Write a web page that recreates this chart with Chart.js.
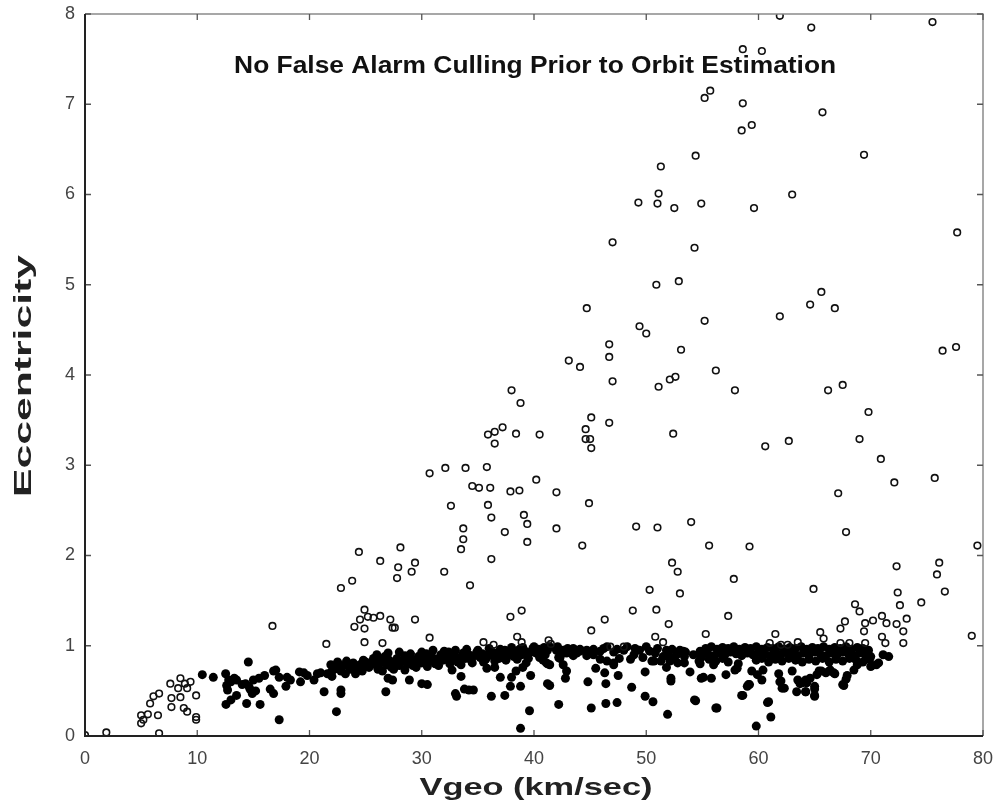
<!DOCTYPE html>
<html>
<head>
<meta charset="utf-8">
<script src="https://cdn.jsdelivr.net/npm/chart.js@4.4.1/dist/chart.umd.min.js"></script>
<style>
html,body{margin:0;padding:0;background:#fff;}
canvas{display:block;}
</style>
</head>
<body>
<canvas id="c" width="998" height="808"></canvas>
<script>
const chartTitle = 'No False Alarm Culling Prior to Orbit Estimation';
const xAxisTitle = 'Vgeo (km/sec)';
const yAxisTitle = 'Eccentricity';
const xTickValues = [0,10,20,30,40,50,60,70,80];
const yTickValues = [0,1,2,3,4,5,6,7,8];

// open circles, low-velocity cluster
const openLow = [[0,0.01],[1.9,0.04],[6.6,0.03],[5.0,0.23],[5.2,0.18],[5.0,0.14],[5.6,0.24],[5.8,0.36],[6.1,0.44],[6.6,0.47],[6.5,0.23],
[7.6,0.58],[8.5,0.64],[9.4,0.60],[8.3,0.53],[9.1,0.53],[7.7,0.42],[8.5,0.43],[9.9,0.45],[7.7,0.32],[8.8,0.31],[9.1,0.27],[9.9,0.21],[9.9,0.18],[8.9,0.58]];

// open circles, middle cluster (x 16-48)
const openMid = [[16.7,1.22],[21.5,1.02],[22.8,1.64],[23.8,1.72],[24.4,2.04],[26.3,1.94],[28.1,2.09],[27.9,1.87],[27.8,1.75],[29.4,1.92],[29.1,1.82],[32.0,1.82],
[24.9,1.40],[24.5,1.29],[25.2,1.32],[25.7,1.31],[26.3,1.33],[27.2,1.29],[24.0,1.21],[24.9,1.19],[27.6,1.20],[29.4,1.29],[27.4,1.20],
[24.9,1.04],[26.5,1.03],[30.7,1.09],[35.5,1.04],[36.4,1.01],[37.9,1.32],[38.9,1.39],[38.5,1.10],[38.9,1.04],[41.3,1.06],[41.5,1.02],
[30.7,2.91],[32.1,2.97],[33.9,2.97],[35.8,2.98],[34.5,2.77],[35.1,2.75],[36.1,2.75],[37.9,2.71],[38.7,2.72],[40.2,2.84],[42.0,2.70],
[32.6,2.55],[35.9,2.56],[36.2,2.42],[39.1,2.45],[39.4,2.35],[33.7,2.30],[33.7,2.18],[33.5,2.07],[37.4,2.26],[39.4,2.15],[42.0,2.30],
[34.3,1.67],[36.2,1.96],[44.3,2.11],[44.9,2.58],
[38.0,3.83],[38.8,3.69],[35.9,3.34],[36.5,3.37],[37.2,3.42],[36.5,3.24],[38.4,3.35],[40.5,3.34],
[43.1,4.16],[44.1,4.09],[44.7,4.74],[45.1,3.53],[44.6,3.40],[44.6,3.29],[45.0,3.29],[45.1,3.19],[46.7,3.47],[46.7,4.34],[46.7,4.20],[47.0,3.93],[47.0,5.47],
[45.1,1.17],[46.3,1.29],[46.8,0.99]];

// open circles, high-velocity region (x 48-80)
const openHigh = [[61.9,7.98],[64.7,7.85],[75.5,7.91],[58.6,7.61],[60.3,7.59],[55.7,7.15],[55.2,7.07],[58.6,7.01],[65.7,6.91],[58.5,6.71],[59.4,6.77],
[54.4,6.43],[69.4,6.44],[51.3,6.31],[63.0,6.00],[51.1,6.01],[51.0,5.90],[49.3,5.91],[52.5,5.85],[54.9,5.90],[59.6,5.85],[54.3,5.41],[77.7,5.58],
[50.9,5.00],[52.9,5.04],[49.4,4.54],[50.0,4.46],[55.2,4.60],[61.9,4.65],[64.6,4.78],[65.6,4.92],[66.8,4.74],[53.1,4.28],[56.2,4.05],
[51.1,3.87],[52.1,3.95],[52.6,3.98],[57.9,3.83],[66.2,3.83],[67.5,3.89],[76.4,4.27],[77.6,4.31],[69.8,3.59],[52.4,3.35],
[60.6,3.21],[62.7,3.27],[69.0,3.29],[70.9,3.07],[75.7,2.86],[72.1,2.81],[67.1,2.69],[67.8,2.26],
[49.1,2.32],[51.0,2.31],[54.0,2.37],[55.6,2.11],[59.2,2.10],[79.5,2.11],[52.3,1.92],[52.8,1.82],[53.0,1.58],[50.3,1.62],
[57.8,1.74],[64.9,1.63],[72.3,1.88],[76.1,1.92],[75.9,1.79],[76.6,1.60],[72.4,1.59],[57.3,1.33],[74.5,1.48],[72.6,1.45],
[68.6,1.46],[69.0,1.38],[73.2,1.30],[72.3,1.24],[71.0,1.33],[70.2,1.28],[69.5,1.25],[71.4,1.25],[67.7,1.27],[67.3,1.19],
[69.4,1.16],[69.5,1.03],[72.9,1.16],[72.9,1.03],[71.0,1.10],[71.3,1.03],[65.5,1.15],[65.8,1.08],[67.3,1.03],[68.1,1.03],
[61.5,1.13],[63.5,1.04],[55.3,1.13],[79.0,1.11],[61.0,1.03],[62.0,1.01],[62.6,1.01],
[48.8,1.39],[50.9,1.40],[52.0,1.24],[50.8,1.10],[51.5,1.04],[48.0,0.99]];

// filled dots, main band
const filledBand = [[22.2,0.74],[22.5,0.80],[22.8,0.72],[23.0,0.78],[23.3,0.83],[23.6,0.76],[23.9,0.81],[24.2,0.74],[24.5,0.79],[24.8,0.84],[25.1,0.77],[25.4,0.81],
[25.7,0.86],[25.9,0.79],[26.2,0.75],[26.4,0.82],[26.7,0.88],[26.9,0.79],[27.1,0.84],[27.3,0.76],[27.6,0.81],[27.8,0.86],[28.0,0.78],[28.3,0.83],[28.5,0.89],
[28.7,0.80],[29.0,0.85],[29.2,0.78],[29.5,0.83],[29.7,0.88],[30.0,0.81],[30.2,0.86],[30.4,0.91],[30.7,0.83],[30.9,0.88],[31.2,0.80],[31.4,0.85],[31.7,0.90],
[31.9,0.84],[32.2,0.88],[32.4,0.93],[32.7,0.85],[32.9,0.90],[33.2,0.82],[33.4,0.87],[33.7,0.92],[33.9,0.86],[34.2,0.90],[34.4,0.84],[34.7,0.89],[34.9,0.93],
[35.2,0.87],[35.4,0.91],[35.7,0.85],[35.9,0.90],[36.2,0.94],[36.4,0.88],[36.7,0.92],[36.9,0.86],[37.2,0.91],[37.4,0.95],[37.7,0.89],[37.9,0.93],[38.2,0.88],
[38.4,0.92],[38.7,0.96],[38.9,0.90],[39.2,0.94],[39.4,0.89],[39.7,0.93],[39.9,0.97],[40.2,0.92],[40.4,0.96],[40.7,0.93],[40.9,0.98],[41.2,0.95],[41.4,0.99],[41.0,0.90],
[26.0,0.90],[27.0,0.92],[28.0,0.93],[29.0,0.91],[30.0,0.93],[31.0,0.95],[32.0,0.94],[33.0,0.95],[34.0,0.96],[35.0,0.95],[36.0,0.97],[37.0,0.96],[38.0,0.98],[39.0,0.98],[40.0,0.99],
[26.5,0.72],[27.5,0.74],[28.5,0.73],[29.5,0.76],[30.5,0.77],[31.5,0.78],[32.5,0.80],[33.5,0.79],[34.5,0.81],[35.5,0.82],[36.5,0.83],[37.5,0.84],[38.5,0.85],[39.5,0.86],[40.5,0.87],
[42.1,0.99],[42.2,0.87],[42.6,0.95],[42.9,0.92],[43.5,0.97],[44.1,0.94],[44.7,0.95],[45.3,0.90],[45.9,0.94],[46.5,0.99],[45.9,0.85],[46.5,0.83],[47.1,0.81],
[48.0,0.95],[48.3,0.99],[48.9,0.90],[48.6,0.85],[49.4,0.95],[50.3,0.94],[50.5,0.83],[51.5,0.88],[51.8,0.95],[52.1,0.83],[52.7,0.90],[53.0,0.95],[53.4,0.81],
[40.8,0.84],[41.1,0.81],[42.0,0.95],[42.5,0.91],[42.6,0.79],[43.5,0.89],[44.1,0.96],[45.3,0.96],[44.7,0.89],[47.1,0.93],[47.6,0.86],[49.7,0.87],[50.8,0.92],[51.3,0.83],
[43.0,0.97],[43.8,0.92],[46.2,0.97],[47.4,0.96],[49.0,0.97],[50.0,0.99],[51.0,0.97],[52.3,0.96],[53.5,0.93],[54.2,0.90],[53.3,0.94],[54.8,0.94],[54.9,0.87],[54.7,0.83],
[55.3,0.97],[55.8,0.99],[56.3,0.96],[56.8,0.98],[57.3,0.97],[57.8,0.99],[58.3,0.96],[58.8,0.98],[59.3,0.97],[59.8,0.99],[60.3,0.96],[60.8,0.98],[61.3,0.97],
[61.8,0.99],[62.3,0.96],[62.8,0.98],[63.3,0.97],[63.8,0.99],[64.3,0.96],[64.8,0.98],[65.3,0.97],[65.8,0.99],[66.3,0.96],[66.8,0.98],[67.3,0.97],[67.8,0.99],
[68.3,0.96],[68.8,0.98],[69.3,0.97],[69.8,0.95],
[55.5,0.91],[56.0,0.89],[56.5,0.92],[57.0,0.90],[57.5,0.93],[58.0,0.91],[58.5,0.89],[59.0,0.92],[59.5,0.90],[60.0,0.93],[60.5,0.91],[61.0,0.89],[61.5,0.92],
[62.0,0.90],[62.5,0.93],[63.0,0.91],[63.5,0.89],[64.0,0.92],[64.5,0.90],[65.0,0.93],[65.5,0.91],[66.0,0.89],[66.5,0.92],[67.0,0.90],[67.5,0.93],[68.0,0.91],
[68.5,0.89],[69.0,0.92],[69.5,0.90],[70.0,0.88],
[55.6,0.85],[56.2,0.83],[56.8,0.86],[57.3,0.82],[59.8,0.84],[60.3,0.86],[60.9,0.82],[61.5,0.85],[62.1,0.83],[62.7,0.86],[63.3,0.84],[63.9,0.82],[64.5,0.85],
[65.1,0.83],[65.7,0.86],[66.3,0.82],[66.9,0.85],[67.5,0.83],[68.1,0.86],[68.7,0.84],[69.3,0.82],[69.9,0.85]];

// filled dots, low-velocity part and scattered below the band
const filledLow = [[10.45,0.68],[11.43,0.65],[12.53,0.69],[12.62,0.56],[12.7,0.51],[12.56,0.35],[13.0,0.40],[13.5,0.45],[13.3,0.64],[14.55,0.82],[14.4,0.36],
[15.6,0.35],[14.7,0.52],[14.9,0.47],[15.0,0.62],[15.5,0.64],[16.0,0.67],[16.5,0.52],[16.8,0.47],[16.8,0.72],[17.3,0.65],[17.3,0.18],[17.9,0.55],[18.3,0.62],
[19.1,0.71],[19.2,0.60],[19.8,0.67],[20.4,0.62],[20.7,0.69],[21.3,0.49],[21.6,0.69],[21.9,0.79],[22.5,0.82],[22.4,0.27],[22.8,0.47],[23.2,0.69],[23.6,0.74],
[24.1,0.69],[24.7,0.72],[25.0,0.82],[25.3,0.76],[26.1,0.74],[26.2,0.85],[13.0,0.60],[13.5,0.62],[14.3,0.58],[14.6,0.55],[15.2,0.50],[17.0,0.73],[18.0,0.65],
[19.5,0.70],[21.0,0.70],[22.0,0.72],[12.8,0.62],[14.0,0.57],
[22.8,0.51],[22.0,0.66],[26.8,0.49],[27.0,0.64],[27.4,0.62],[28.9,0.62],[30.0,0.58],[30.5,0.57],[32.7,0.73],[33.0,0.47],[33.1,0.44],[33.5,0.66],[33.8,0.52],
[34.2,0.51],[34.6,0.51],[35.8,0.75],[36.2,0.44],[36.5,0.76],[37.0,0.65],[37.4,0.45],[37.9,0.55],[38.0,0.65],[38.4,0.72],[38.8,0.55],[38.8,0.085],[39.0,0.76],
[39.3,0.81],[39.6,0.28],[39.7,0.67],[41.2,0.58],[41.4,0.56],[41.2,0.80],[41.4,0.79],[42.2,0.35],[42.8,0.64],[42.9,0.72],[42.3,0.86],[44.8,0.60],[45.1,0.31],
[45.5,0.75],[46.4,0.58],[46.4,0.36],[46.3,0.70],[47.4,0.37],[47.5,0.67],[47.1,0.79],[48.7,0.54],[49.9,0.71],[49.9,0.44],[50.6,0.38],[51.9,0.24],[52.2,0.64],
[52.2,0.61],[51.8,0.76],[52.5,0.85],[50.7,0.83],[52.1,0.88],[52.8,0.81],[53.4,0.88],[53.9,0.71],[54.4,0.39],[54.8,0.80],[54.8,0.90],[55.1,0.65],[55.8,0.64],
[56.2,0.31],[56.0,0.79],[57.1,0.68],[58.1,0.75],[58.6,0.45],[59.0,0.55],[59.2,0.57],[59.4,0.72],[59.8,0.11],[59.9,0.68],[60.3,0.62],[60.8,0.37],[61.1,0.21],
[61.8,0.69],[62.0,0.61],[62.3,0.53],[63.0,0.72],[63.4,0.49],[63.7,0.58],[64.2,0.49],[64.3,0.59],[64.6,0.64],[65.0,0.45],[65.0,0.55],[65.2,0.68],[65.6,0.72],
[66.0,0.70],[66.4,0.73],[66.8,0.69],[67.6,0.56],[67.8,0.63],[67.9,0.67],[68.5,0.73],[68.8,0.79],[70.1,0.78],[70.7,0.81],[71.6,0.88],
[63.5,0.62],[63.9,0.59],[64.2,0.62],[65.4,0.72],[66.3,0.72],[66.7,0.70],[67.5,0.57],[64.2,0.49],[65.0,0.52],[65.0,0.44],[61.9,0.60],[62.1,0.53],
[59.1,0.57],[58.5,0.45],[60.4,0.73],[60.9,0.38],[54.3,0.40],[56.3,0.31],[54.9,0.64],[57.9,0.73],[58.2,0.80],[71.1,0.90],[70.5,0.79],[70.0,0.77]];

const openPoints = openLow.concat(openMid, openHigh).map(p => ({x: p[0], y: p[1]}));
const filledPoints = filledBand.concat(filledLow).map(p => ({x: p[0], y: p[1]}));

const FONT = '"Liberation Sans", Arial, sans-serif';

// draw text horizontally stretched to a target width (keeps it real text)
function stretchedText(ctx, text, cx, cy, fontPx, targetW, angle) {
  ctx.save();
  ctx.font = 'bold ' + fontPx + 'px ' + FONT;
  const w = ctx.measureText(text).width;
  ctx.translate(cx, cy);
  if (angle) ctx.rotate(angle);
  ctx.scale(targetW / w, 1);
  ctx.textAlign = 'center';
  ctx.textBaseline = 'alphabetic';
  ctx.fillText(text, 0, 0);
  ctx.restore();
}

const framePlugin = {
  id: 'frame',
  afterDraw(chart) {
    const {ctx, chartArea: a, scales} = chart;
    ctx.save();
    ctx.strokeStyle = '#8a8a8a';
    ctx.lineWidth = 1.5;
    ctx.beginPath();
    ctx.moveTo(a.left, a.top); ctx.lineTo(a.right, a.top); ctx.lineTo(a.right, a.bottom);
    ctx.stroke();
    const tl = 6;
    ctx.strokeStyle = '#555';
    ctx.lineWidth = 1.3;
    ctx.beginPath();
    xTickValues.forEach(v => {
      const px = scales.x.getPixelForValue(v);
      ctx.moveTo(px, a.bottom); ctx.lineTo(px, a.bottom - tl);
      ctx.moveTo(px, a.top); ctx.lineTo(px, a.top + tl);
    });
    yTickValues.forEach(v => {
      const py = scales.y.getPixelForValue(v);
      ctx.moveTo(a.left, py); ctx.lineTo(a.left + tl, py);
      ctx.moveTo(a.right, py); ctx.lineTo(a.right - tl, py);
    });
    ctx.stroke();
    ctx.strokeStyle = '#222';
    ctx.lineWidth = 2;
    ctx.beginPath();
    ctx.moveTo(a.left, a.top); ctx.lineTo(a.left, a.bottom); ctx.lineTo(a.right, a.bottom);
    ctx.stroke();
    ctx.fillStyle = '#111';
    stretchedText(ctx, chartTitle, scales.x.getPixelForValue(40.1), 73, 24, 602, 0);
    ctx.fillStyle = '#222';
    stretchedText(ctx, xAxisTitle, 536, 795, 24, 233, 0);
    stretchedText(ctx, yAxisTitle, 31, 376, 24, 242, -Math.PI / 2);
    ctx.restore();
  }
};

new Chart(document.getElementById('c'), {
  type: 'scatter',
  data: {
    datasets: [
      {
        label: 'open',
        data: openPoints,
        order: 0,
        pointStyle: 'circle',
        pointRadius: 3.3,
        pointBorderWidth: 1.6,
        pointBackgroundColor: 'rgba(255,255,255,0)',
        pointBorderColor: '#111'
      },
      {
        label: 'filled',
        data: filledPoints,
        order: 1,
        pointStyle: 'circle',
        pointRadius: 4.5,
        pointBorderWidth: 0,
        pointBackgroundColor: '#000',
        pointBorderColor: '#000'
      }
    ]
  },
  options: {
    responsive: false,
    animation: false,
    devicePixelRatio: 1,
    layout: { padding: { left: 0, right: 15, top: 14, bottom: 0 } },
    plugins: { legend: { display: false }, tooltip: { enabled: false }, title: { display: false } },
    scales: {
      x: {
        type: 'linear', min: 0, max: 80,
        afterBuildTicks: s => { s.ticks = xTickValues.map(v => ({value: v})); },
        afterFit: s => { s.height = 72; s.paddingLeft = 0; s.paddingRight = 0; },
        grid: { display: false, drawTicks: false },
        border: { display: false },
        ticks: { color: '#444', font: { family: FONT, size: 18 }, padding: 12, maxRotation: 0 },
        title: { display: false }
      },
      y: {
        type: 'linear', min: 0, max: 8,
        afterBuildTicks: s => { s.ticks = yTickValues.map(v => ({value: v})); },
        afterFit: s => { s.width = 85; s.paddingTop = 0; s.paddingBottom = 0; },
        grid: { display: false, drawTicks: false },
        border: { display: false },
        ticks: { color: '#444', font: { family: FONT, size: 18 }, padding: 10 },
        title: { display: false }
      }
    }
  },
  plugins: [framePlugin]
});
</script>
</body>
</html>
